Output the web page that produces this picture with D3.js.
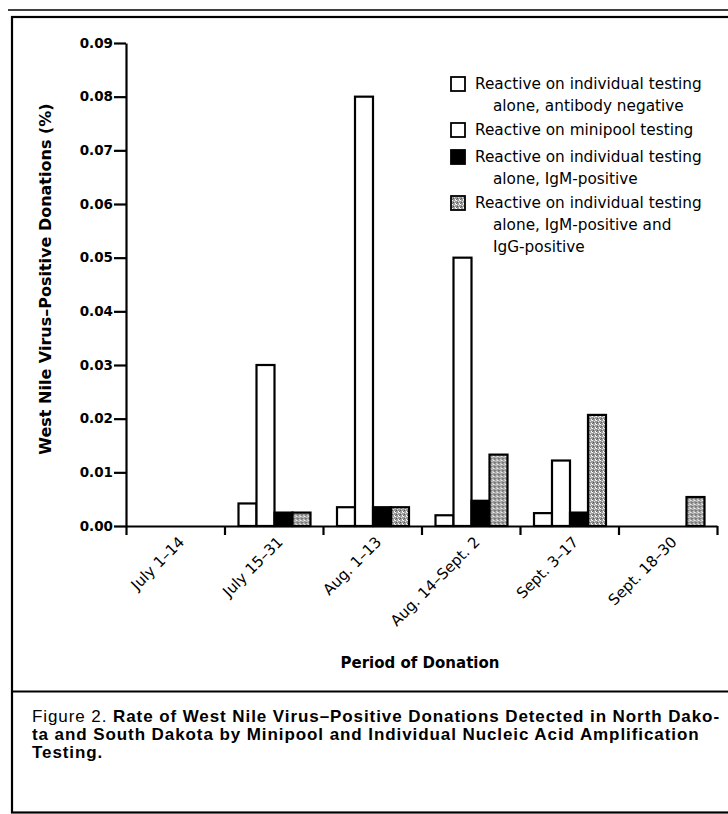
<!DOCTYPE html>
<html>
<head>
<meta charset="utf-8">
<script src="https://cdn.jsdelivr.net/npm/d3@7"></script>
<style>
  html, body { margin: 0; padding: 0; background: #fff; }
  svg { display: block; }
  text { font-family: "DejaVu Sans", sans-serif; fill: #000; }
</style>
</head>
<body>
<div id="chart"></div>
<script>
// ---- data ----
const categories = ["July 1–14", "July 15–31", "Aug. 1–13", "Aug. 14–Sept. 2", "Sept. 3–17", "Sept. 18–30"];
const seriesKeys = ["abNeg", "minipool", "igm", "igmigg"];
const abNeg    = [0, 0.0042, 0.0035, 0.0020, 0.0024, 0];
const minipool = [0, 0.0300, 0.0800, 0.0500, 0.0122, 0];
const igm      = [0, 0.0025, 0.0035, 0.0047, 0.0025, 0];
const igmigg   = [0, 0.0025, 0.0035, 0.0133, 0.0207, 0.0054];
const yTicks = [0, 0.01, 0.02, 0.03, 0.04, 0.05, 0.06, 0.07, 0.08, 0.09];
const legendLabels = [
  ["Reactive on individual testing", "alone, antibody negative"],
  ["Reactive on minipool testing"],
  ["Reactive on individual testing", "alone, IgM-positive"],
  ["Reactive on individual testing", "alone, IgM-positive and", "IgG-positive"]
];
const yTitle = "West Nile Virus–Positive Donations (%)";
const xTitle = "Period of Donation";
const captionLines = [
  [["Figure 2. ", "normal"], ["Rate of West Nile Virus–Positive Donations Detected in North Dako-", "bold"]],
  [["ta and South Dakota by Minipool and Individual Nucleic Acid Amplification", "bold"]],
  [["Testing.", "bold"]]
];

const seriesValues = { abNeg, minipool, igm, igmigg };
const rows = categories.map((c, i) => ({ cat: c, vals: seriesKeys.map(k => ({ key: k, value: seriesValues[k][i] })) }));

// ---- svg ----
const W = 728, H = 814;
const svg = d3.select("#chart").append("svg").attr("width", W).attr("height", H);
svg.append("rect").attr("width", W).attr("height", H).attr("fill", "#fff");

const defs = svg.append("defs");
const pat = defs.append("pattern").attr("id", "stipple").attr("patternUnits", "userSpaceOnUse")
  .attr("width", 4).attr("height", 4);
pat.append("rect").attr("width", 4).attr("height", 4).attr("fill", "#9a9a9a");
[[0,0,"#fff"],[2,1,"#e0e0e0"],[1,2,"#555"],[3,3,"#fff"],[0,3,"#6a6a6a"],[3,0,"#d8d8d8"]].forEach(([x,y,c]) =>
  pat.append("rect").attr("x", x).attr("y", y).attr("width", 1).attr("height", 1).attr("fill", c));

const fills = { abNeg: "#fff", minipool: "#fff", igm: "#000", igmigg: "url(#stipple)" };

// ---- frame ----
svg.append("line").attr("x1", 8).attr("x2", W).attr("y1", 10).attr("y2", 10).attr("stroke", "#000").attr("stroke-width", 1.5);
svg.append("rect").attr("x", 12).attr("y", 17).attr("width", W + 10).attr("height", 795.5)
  .attr("fill", "none").attr("stroke", "#000").attr("stroke-width", 2.2);
svg.append("line").attr("x1", 12).attr("x2", W).attr("y1", 691.5).attr("y2", 691.5).attr("stroke", "#000").attr("stroke-width", 2.2);

// ---- scales ----
const plotL = 126, plotR = 717, plotTop = 43, plotBot = 526;
const x0 = d3.scaleBand().domain(categories).range([plotL, plotR]).paddingInner(0).paddingOuter(0);
const x1 = d3.scaleBand().domain(seriesKeys).range([14, 86]).padding(0);
const y = d3.scaleLinear().domain([0, 0.09]).range([plotBot, plotTop]);

// ---- bars ----
const g = svg.append("g");
g.selectAll("g.grp").data(rows).join("g").attr("class", "grp")
  .attr("transform", d => `translate(${x0(d.cat)},0)`)
  .selectAll("rect").data(d => d.vals.filter(v => v.value > 0)).join("rect")
  .attr("x", d => x1(d.key))
  .attr("width", x1.bandwidth())
  .attr("y", d => y(d.value))
  .attr("height", d => y(0) - y(d.value))
  .attr("fill", d => fills[d.key])
  .attr("stroke", "#000").attr("stroke-width", 2.2);

// ---- axes ----
const yAxis = svg.append("g").attr("transform", `translate(${plotL},0)`)
  .call(d3.axisLeft(y).tickValues(yTicks).tickFormat(d3.format(".2f")).tickSize(12).tickSizeOuter(0).tickPadding(1));
yAxis.selectAll("path, line").attr("stroke", "#000").attr("stroke-width", 2.2);
yAxis.selectAll("text").attr("font-size", 13.5).attr("font-weight", "bold")
  .style("font-family", "'DejaVu Sans', sans-serif").attr("fill", "#000");

const bounds = d3.scaleLinear().domain([0, categories.length]).range([plotL, plotR]);
const xAxis = svg.append("g").attr("transform", `translate(0,${plotBot})`)
  .call(d3.axisBottom(bounds).ticks(categories.length).tickFormat("").tickSize(9).tickSizeOuter(0));
xAxis.selectAll("path, line").attr("stroke", "#000").attr("stroke-width", 2.2);

// x category labels
svg.append("g").selectAll("text").data(categories).join("text")
  .attr("transform", d => `translate(${x0(d) + x0.bandwidth() / 2 + 10},${plotBot + 17}) rotate(-45)`)
  .attr("text-anchor", "end")
  .attr("font-size", 15)
  .text(d => d);

// axis titles
svg.append("text")
  .attr("transform", `translate(51,${(103 + 455) / 2}) rotate(-90)`)
  .attr("text-anchor", "middle").attr("font-size", 16).attr("font-weight", "bold")
  .text(yTitle);
svg.append("text").attr("x", 420).attr("y", 668).attr("text-anchor", "middle")
  .attr("font-size", 15).attr("font-weight", "bold").text(xTitle);

// ---- legend ----
const legTops = [77, 123, 150, 196];
const lg = svg.append("g");
legendLabels.forEach((lines, i) => {
  const top = legTops[i];
  lg.append("rect").attr("x", 451).attr("y", top).attr("width", 14).attr("height", 14)
    .attr("fill", fills[seriesKeys[i]]).attr("stroke", "#000").attr("stroke-width", 1.8);
  lines.forEach((t, j) => {
    lg.append("text").attr("x", j === 0 ? 475 : 493).attr("y", top + 12 + j * 22)
      .attr("font-size", 15.3).text(t);
  });
});

// ---- caption (letter spacing fitted to the first line's width) ----
const capTarget = 688;
const capTexts = captionLines.map((parts, i) => {
  const t = svg.append("text").attr("x", 32).attr("y", 722 + i * 18)
    .attr("font-size", 17).style("font-family", "'Liberation Sans', Arial, sans-serif");
  parts.forEach(([s, w]) => t.append("tspan").attr("font-weight", w).text(s));
  return t;
});
const first = capTexts[0];
const nChars = first.text().length;
const ls = Math.max(0, (capTarget - first.node().getComputedTextLength()) / nChars);
capTexts.forEach(t => t.style("letter-spacing", ls + "px"));
</script>
</body>
</html>
